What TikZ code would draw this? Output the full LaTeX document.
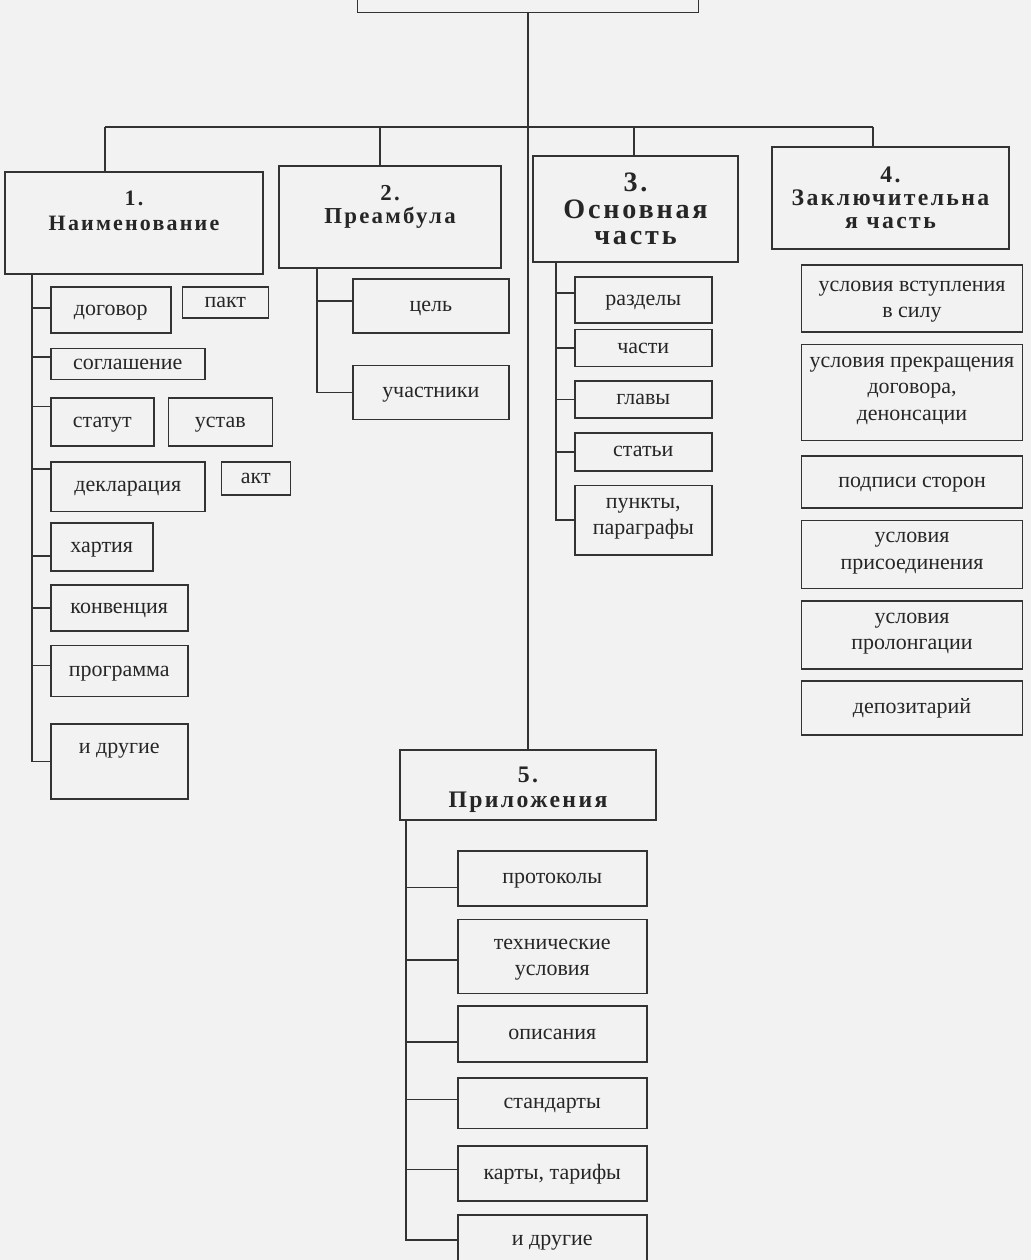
\documentclass[tikz,border=0pt]{standalone}
\usepackage{fontspec}
\setmainfont{Liberation Serif}
\usetikzlibrary{positioning}

\tikzset{
  box/.style={draw=black!80,line width=0.9pt,rectangle,inner sep=2pt,align=center,text=black!85},
  head/.style 2 args={box,font=\fontsize{#1}{#2}\selectfont\bfseries\addfontfeature{LetterSpace=10}},
  leaf/.style={box,inner ysep=1pt,font=\fontsize{12.5}{15}\selectfont,execute at begin node=\strut,execute at end node=\strut},
  multi/.style={text height=26pt},
  link/.style={draw=black!80,line width=0.9pt}
}

\begin{document}
\begin{tikzpicture}[x=0.02cm,y=-0.02cm]
  \fill[gray!10] (0,0) rectangle (1031,1260);
  \useasboundingbox (0,0) rectangle (1031,1260);

  % top box and the five parts
  \node[box,minimum width=6.82cm,minimum height=1.5cm](title) at (528,-25){};
  \node[head={12.5}{14},minimum width=5.16cm,minimum height=2.04cm,text depth=14pt](naim) at (134,223){1.\\Наименование};
  \node[head={13}{13},minimum width=4.44cm,minimum height=2.04cm,text depth=14pt](pream) at (390,217){2.\\Преамбула};
  \node[head={16}{15},minimum width=4.1cm,minimum height=2.12cm](osn) at (635.5,209){3.\\Основная\\часть};
  \node[head={13.5}{13}, minimum width=4.74cm,minimum height=2.04cm](zakl) at (890.5,198){4.\\Заключительна\\я часть};
  \node[head={13.5}{14},minimum width=5.12cm,minimum height=1.4cm,text height=28pt](pril) at (528,785){5.\\Приложения};

  \coordinate (b1) at (105,127);
  \coordinate (b2) at (380,127);
  \coordinate (b3) at (634,127);
  \coordinate (b4) at (873,127);
  \draw[link] (title.south) -- (pril.north);
  \draw[link] (b1) -- (b4);
  \draw[link] (b1) -- (b1 |- naim.north);
  \draw[link] (b2) -- (b2 |- pream.north);
  \draw[link] (b3) -- (b3 |- osn.north);
  \draw[link] (b4) -- (b4 |- zakl.north);

  % 1. names
  \node[leaf,anchor=west,minimum width=2.4cm,minimum height=0.92cm](dogovor) at (50,310){договор};
  \node[leaf,minimum width=1.72cm,minimum height=0.62cm](pakt)[right=0.2cm of dogovor.north east,anchor=north west]{пакт};
  \node[leaf,minimum width=3.08cm,minimum height=0.62cm](soglash)[below=0.28cm of dogovor.south west,anchor=north west]{соглашение};
  \node[leaf,minimum width=2.06cm,minimum height=0.96cm](statut)[below=0.34cm of soglash.south west,anchor=north west]{статут};
  \node[leaf,minimum width=2.08cm,minimum height=0.96cm](ustav)[right=0.26cm of statut.north east,anchor=north west]{устав};
  \node[leaf,minimum width=3.08cm,minimum height=1.0cm](deklar)[below=0.28cm of statut.south west,anchor=north west]{декларация};
  \node[leaf,minimum width=1.38cm,minimum height=0.66cm](akt)[right=0.3cm of deklar.north east,anchor=north west]{акт};
  \node[leaf,minimum width=2.04cm,minimum height=0.96cm](hartia)[below=0.2cm of deklar.south west,anchor=north west]{хартия};
  \node[leaf,minimum width=2.74cm,minimum height=0.92cm](konv)[below=0.24cm of hartia.south west,anchor=north west]{конвенция};
  \node[leaf,minimum width=2.74cm,minimum height=1.02cm](progr)[below=0.26cm of konv.south west,anchor=north west]{программа};
  \node[leaf,minimum width=2.74cm,minimum height=1.5cm,text depth=20pt](drugieA)[below=0.52cm of progr.south west,anchor=north west]{и другие};

  \coordinate (s1) at (32,0);
  \draw[link] (naim.south -| s1) |- (drugieA.west);
  \foreach \n/\s in {dogovor/1pt,soglash/4pt,statut/9pt,deklar/10pt,hartia/-5pt,konv/0pt,progr/3pt}{
    \path ([yshift=\s]\n.west) coordinate (p);
    \draw[link] (p) -- (p -| s1);
  }

  % 2. preamble
  \node[leaf,anchor=west,minimum width=3.12cm,minimum height=1.08cm](cel) at (352,306){цель};
  \node[leaf,minimum width=3.12cm,minimum height=1.08cm](uchast)[below=0.62cm of cel.south west,anchor=north west]{участники};
  \coordinate (s2) at (317,0);
  \draw[link] (pream.south -| s2) |- (uchast.west);
  \path ([yshift=3pt]cel.west) coordinate (p);
  \draw[link] (p) -- (p -| s2);

  % 3. main part
  \node[leaf,anchor=west,minimum width=2.74cm,minimum height=0.92cm](razd) at (574,300){разделы};
  \node[leaf,minimum width=2.74cm,minimum height=0.74cm](chasti)[below=0.1cm of razd.south west,anchor=north west]{части};
  \node[leaf,minimum width=2.74cm,minimum height=0.74cm](glavy)[below=0.26cm of chasti.south west,anchor=north west]{главы};
  \node[leaf,minimum width=2.74cm,minimum height=0.76cm](stati)[below=0.26cm of glavy.south west,anchor=north west]{статьи};
  \node[leaf,minimum width=2.74cm,minimum height=1.4cm](punkty)[below=0.26cm of stati.south west,anchor=north west]{пункты,\\параграфы};
  \coordinate (s3) at (556,0);
  \draw[link] (osn.south -| s3) |- (punkty.west);
  \foreach \n/\s in {razd/4pt,chasti/0pt,glavy/0pt,stati/0pt}{
    \path ([yshift=\s]\n.west) coordinate (p);
    \draw[link] (p) -- (p -| s3);
  }

  % 4. final part
  \node[leaf,multi,minimum width=4.42cm,minimum height=1.34cm](vstup) at (912,298.5){условия вступления\\в силу};
  \node[leaf,minimum width=4.42cm,minimum height=1.92cm](prekr)[below=0.22cm of vstup]{условия прекращения\\договора,\\денонсации};
  \node[leaf,minimum width=4.42cm,minimum height=1.04cm](podp)[below=0.28cm of prekr]{подписи сторон};
  \node[leaf,minimum width=4.42cm,minimum height=1.36cm](prisoed)[below=0.22cm of podp]{условия\\присоединения};
  \node[leaf,minimum width=4.42cm,minimum height=1.36cm](prolong)[below=0.22cm of prisoed]{условия\\пролонгации};
  \node[leaf,minimum width=4.42cm,minimum height=1.08cm](depoz)[below=0.2cm of prolong]{депозитарий};

  % 5. annexes
  \node[leaf,anchor=west,minimum width=3.78cm,minimum height=1.1cm](protok) at (457,878.5){протоколы};
  \node[leaf,multi,minimum width=3.78cm,minimum height=1.48cm](tehn)[below=0.24cm of protok.south west,anchor=north west]{технические\\условия};
  \node[leaf,minimum width=3.78cm,minimum height=1.12cm](opis)[below=0.22cm of tehn.south west,anchor=north west]{описания};
  \node[leaf,minimum width=3.78cm,minimum height=1.02cm](stand)[below=0.28cm of opis.south west,anchor=north west]{стандарты};
  \node[leaf,minimum width=3.78cm,minimum height=1.1cm](karty)[below=0.32cm of stand.south west,anchor=north west]{карты, тарифы};
  \node[leaf,minimum width=3.78cm,minimum height=1.0cm](drugieB)[below=0.24cm of karty.south west,anchor=north west]{и другие};
  \coordinate (s5) at (406,0);
  \draw[link] (pril.south -| s5) |- (drugieB.west);
  \foreach \n/\s in {protok/-5pt,tehn/-2pt,opis/-4.5pt,stand/2pt,karty/2.5pt}{
    \path ([yshift=\s]\n.west) coordinate (p);
    \draw[link] (p) -- (p -| s5);
  }
\end{tikzpicture}
\end{document}
